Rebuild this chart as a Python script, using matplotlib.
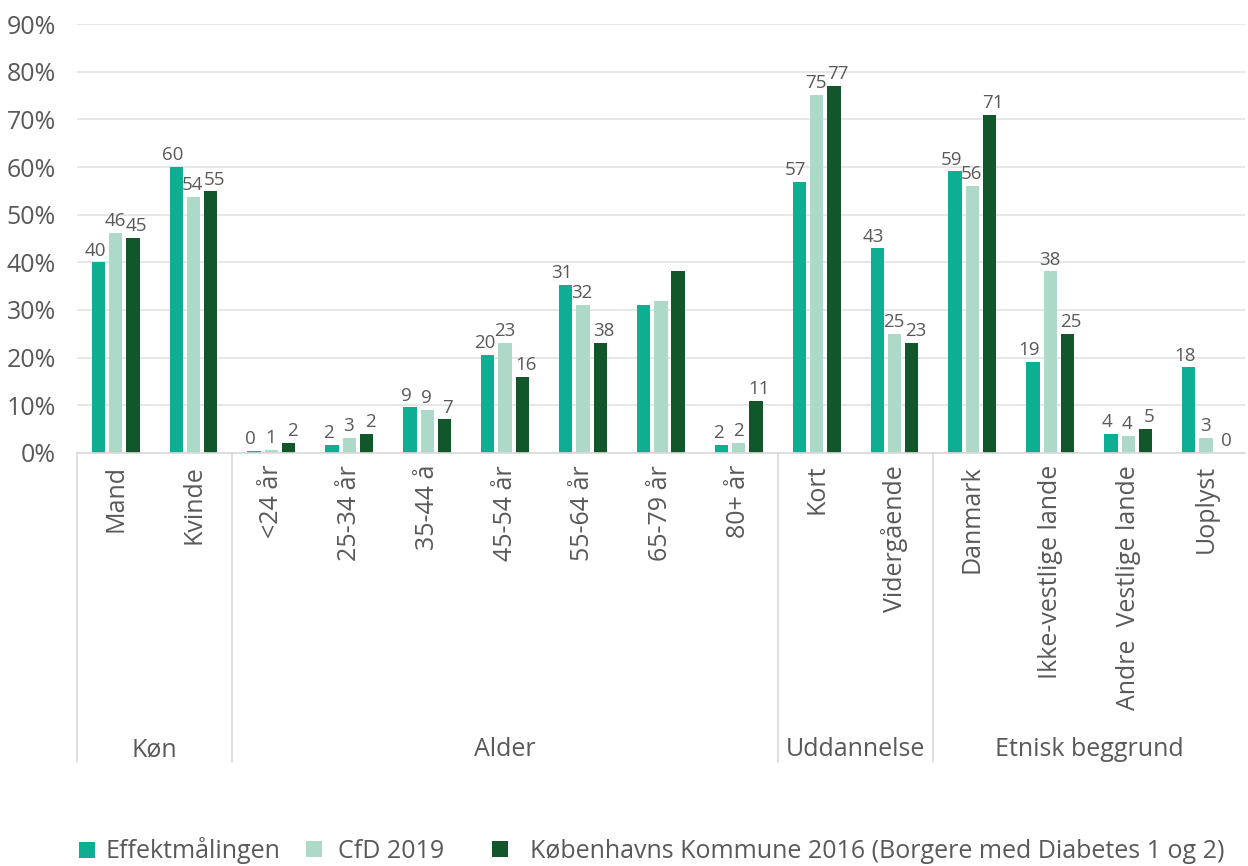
import matplotlib
matplotlib.use("Agg")
import matplotlib.pyplot as plt
from matplotlib.patches import Patch
import numpy as np

plt.rcParams['font.family'] = ['Open Sans', 'DejaVu Sans']

categories = ["Mand", "Kvinde", "<24 år", "25-34 år", "35-44 å", "45-54 år", "55-64 år",
              "65-79 år", "80+ år", "Kort", "Vidergående", "Danmark", "Ikke-vestlige lande",
              "Andre  Vestlige lande", "Uoplyst"]
groups = ["Køn", "Alder", "Uddannelse", "Etnisk beggrund"]
group_sizes = [2, 7, 2, 4]

series_names = ["Effektmålingen", "CfD 2019",
                "Københavns Kommune 2016 (Borgere med Diabetes 1 og 2)"]

effekt = [40, 60, 0.3, 1.7, 9.5, 20.5, 35.3, 31.1, 1.7, 56.9, 42.9, 59.1, 19.1, 3.9, 17.9]
cfd = [46.2, 53.8, 0.6, 3.1, 9.0, 23.0, 31.1, 31.9, 2.0, 75.1, 24.9, 56.0, 38.1, 3.6, 3.1]
kbh = [45.2, 54.9, 2.0, 3.9, 7.0, 16.0, 23.0, 38.1, 10.9, 77.0, 23.0, 70.9, 24.9, 5.0, 0.0]

effekt_labels = ["40", "60", "0", "2", "9", "20", "31", "", "2", "57", "43", "59", "19", "4", "18"]
cfd_labels = ["46", "54", "1", "3", "9", "23", "32", "", "2", "75", "25", "56", "38", "4", "3"]
kbh_labels = ["45", "55", "2", "2", "7", "16", "38", "", "11", "77", "23", "71", "25", "5", "0"]

yticks = [0, 10, 20, 30, 40, 50, 60, 70, 80, 90]

colors = ["#0DAE92", "#ADD9C8", "#12572B"]
text_color = "#595959"

W, H = 1248, 866
fig = plt.figure(figsize=(W / 100, H / 100), dpi=100)
ax_left, ax_right = 76.7 / W, 1245 / W
ax_bottom, ax_top = 1 - 452.7 / H, 1 - 24.3 / H
ax = fig.add_axes([ax_left, ax_bottom, ax_right - ax_left, ax_top - ax_bottom])

x = np.arange(len(categories))
bw = 0.171
offs = [-0.222, 0.0, 0.222]
label_dx = [-2.5, -0.5, 2.5]  # points, small nudges like the original
all_vals = [effekt, cfd, kbh]
all_labels = [effekt_labels, cfd_labels, kbh_labels]
for vals, labs, off, col, dx in zip(all_vals, all_labels, offs, colors, label_dx):
    bars = ax.bar(x + off, vals, width=bw, color=col, zorder=3)
    for b, lab in zip(bars, labs):
        if lab:
            ax.annotate(lab, (b.get_x() + b.get_width() / 2, b.get_height()),
                        xytext=(dx, 2), textcoords='offset points',
                        ha='center', va='bottom', fontsize=13.5, color=text_color)

ax.set_xlim(-0.5, len(categories) - 0.5)
ax.set_ylim(0, 90)
ax.set_yticks(yticks)
ax.set_yticklabels([f"{t}%" for t in yticks], fontsize=18, color=text_color)
ax.tick_params(axis='y', length=0, pad=15)
ax.set_xticks([])
ax.grid(axis='y', color="#E3E3E3", linewidth=1.2, zorder=0)
for s in ["top", "right", "left"]:
    ax.spines[s].set_visible(False)
ax.spines["bottom"].set_color("#D9D9D9")
ax.spines["bottom"].set_linewidth(1.2)
ax.spines["bottom"].set_zorder(4)

axh = (ax_top - ax_bottom) * H
trans = ax.get_xaxis_transform()
y_tick = -12.3 / axh
y_group = -(750 - 452.7) / axh
y_sep = -(762 - 452.7) / axh

for xi, c in zip(x, categories):
    ax.text(xi, y_tick, c, rotation=90, ha='center', va='top', transform=trans,
            fontsize=18, color=text_color)

start = 0
for g, n in zip(groups, group_sizes):
    ax.plot([start - 0.5, start - 0.5], [0, y_sep], transform=trans, color="#D9D9D9",
            linewidth=1.2, clip_on=False)
    ax.text(start - 0.5 + n / 2, y_group, g, ha='center', va='center', transform=trans,
            fontsize=18, color=text_color)
    start += n

legend_x = [79 / W, 306 / W, 492 / W]
legend_pad = [0.45, 0.65, 0.9]
for c, name, lx, tp in zip(colors, series_names, legend_x, legend_pad):
    fig.legend([Patch(facecolor=c, edgecolor='none')], [name], loc='center left',
               bbox_to_anchor=(lx, 1 - 851 / H), frameon=False, fontsize=18,
               labelcolor=text_color, handlelength=0.62, handleheight=0.62,
               handletextpad=tp, borderaxespad=0, borderpad=0)

fig.savefig("out.png", dpi=100)
